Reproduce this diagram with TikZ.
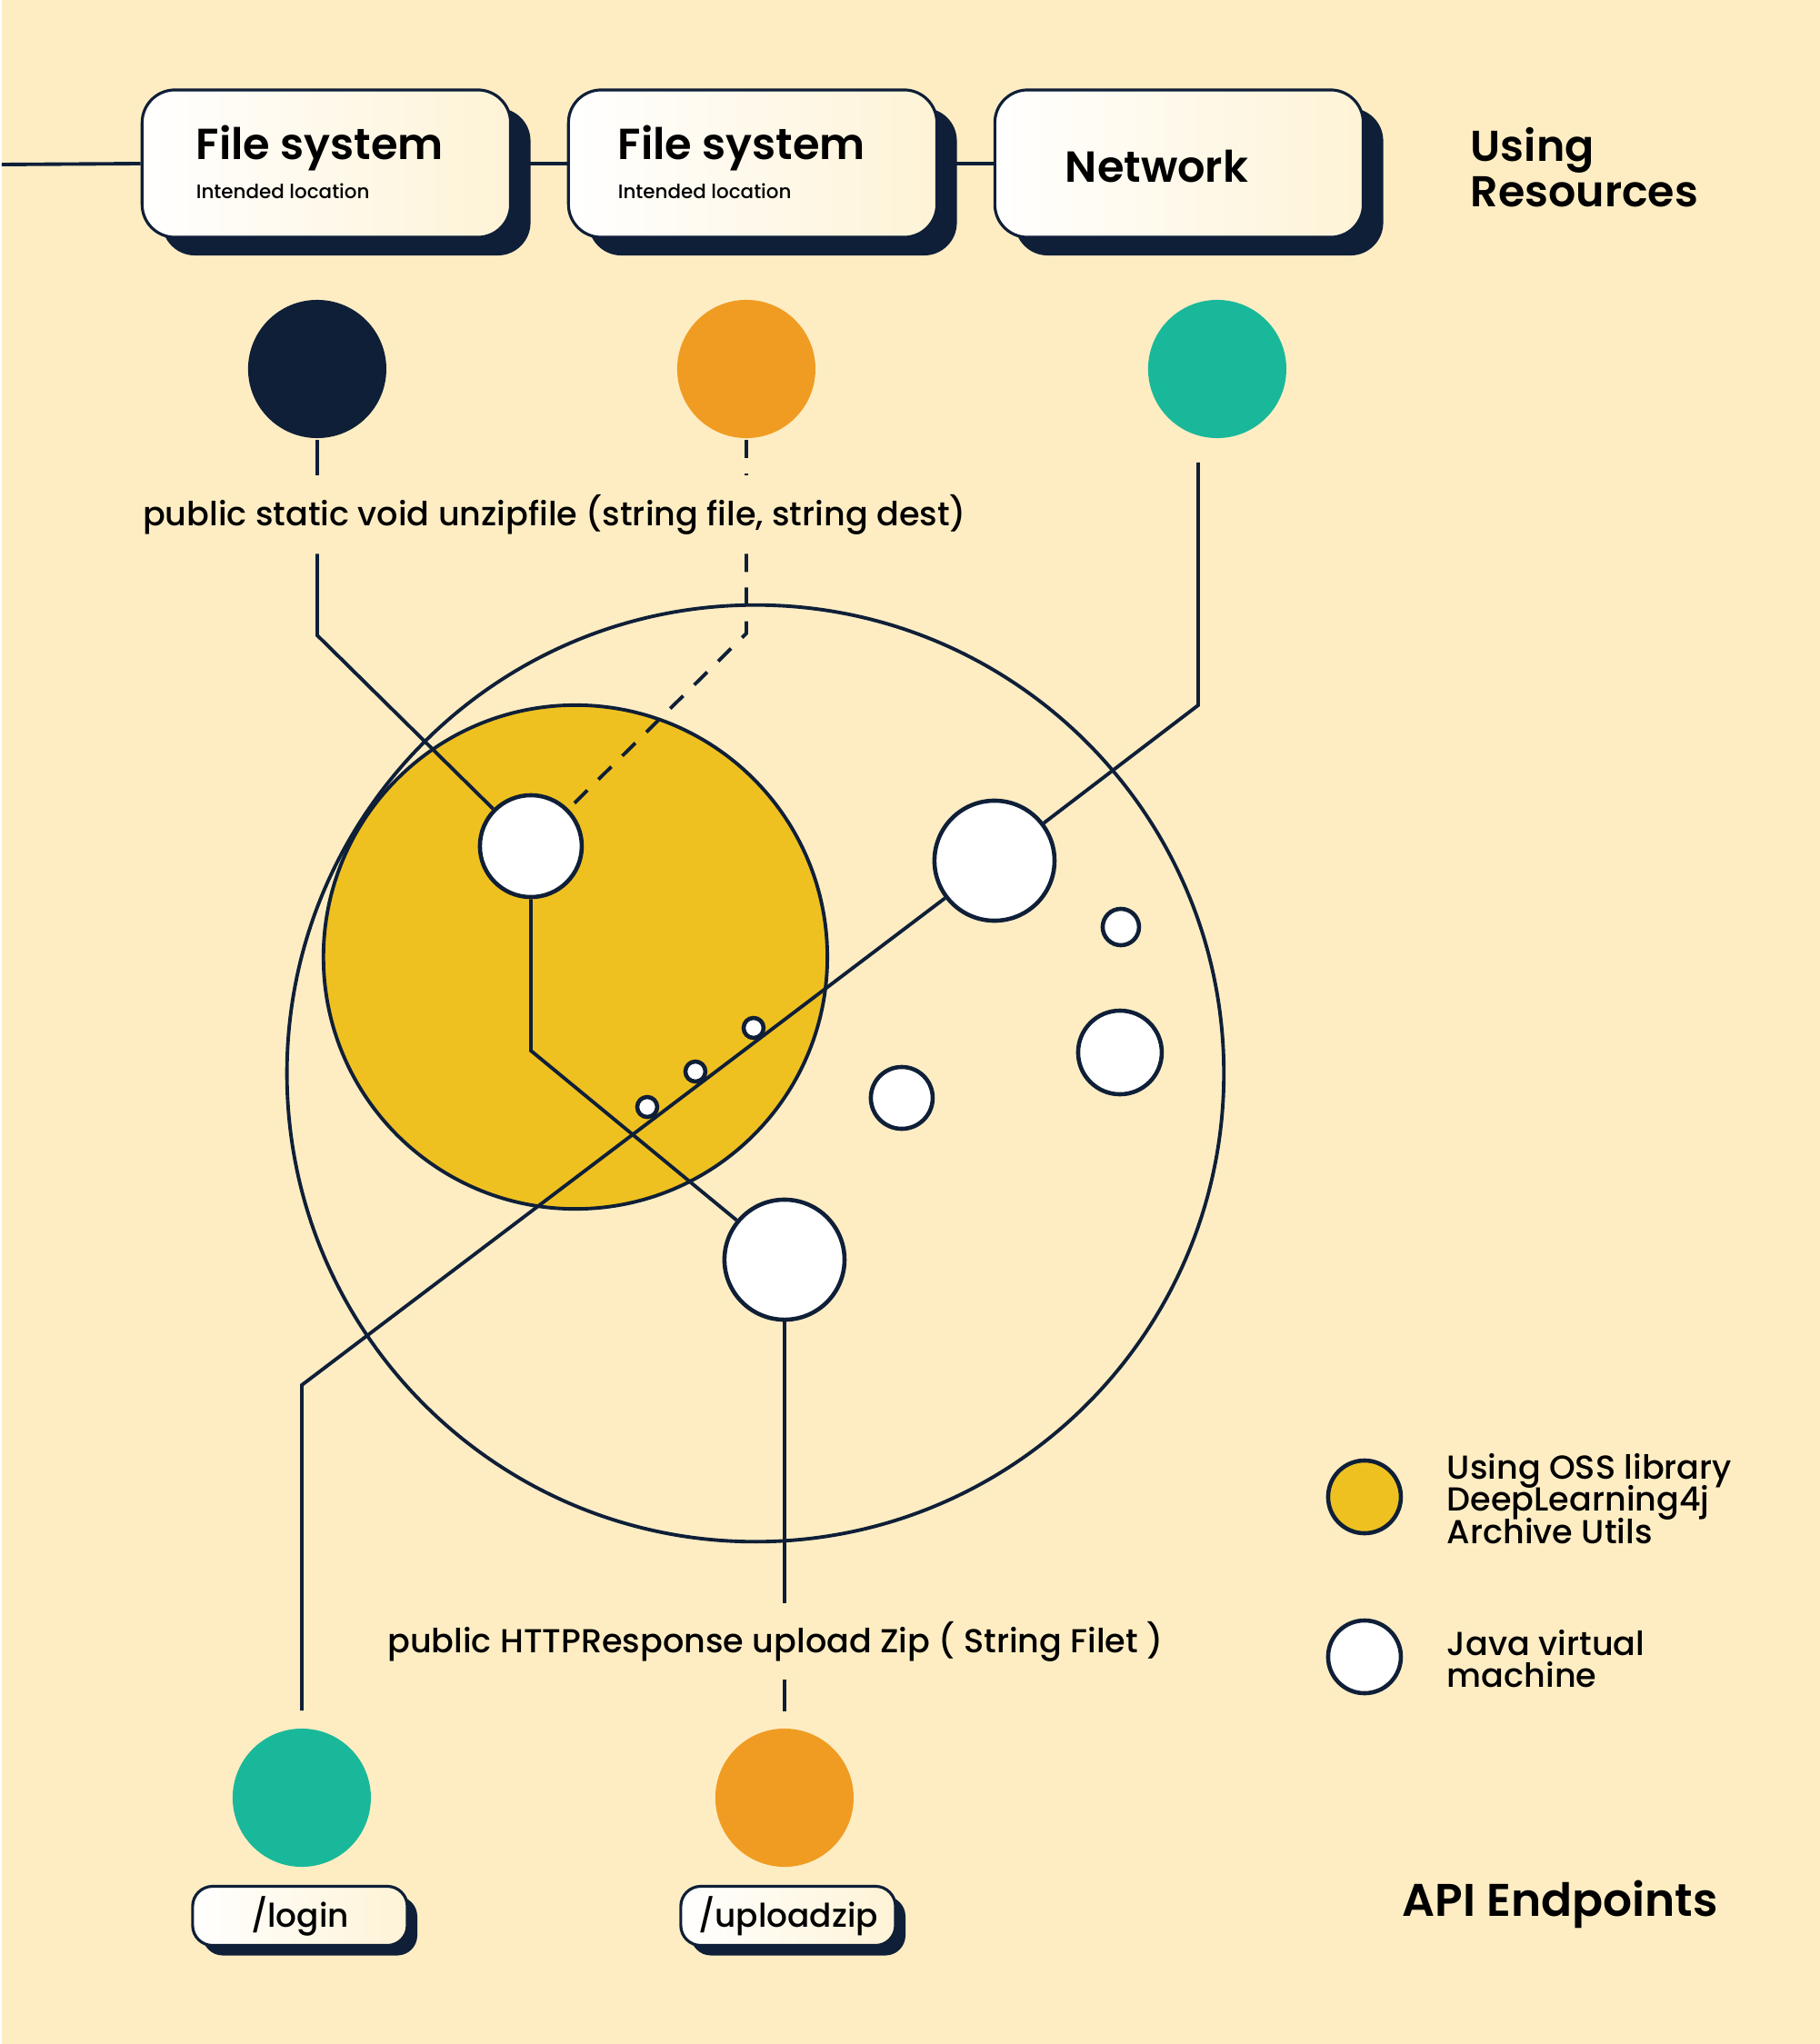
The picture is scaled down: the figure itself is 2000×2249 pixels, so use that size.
\documentclass[tikz,border=0pt]{standalone}
\usepackage{fontspec}
\setmainfont{Poppins}[UprightFont=* Medium, BoldFont=* SemiBold]
\usetikzlibrary{shadows}

\definecolor{bgcream}{HTML}{FEEDC3}
\definecolor{boxcream}{HTML}{FEF3D6}
\definecolor{navy}{HTML}{0F1F38}
\definecolor{resorange}{HTML}{F09C22}
\definecolor{resteal}{HTML}{1AB89A}
\definecolor{ossyellow}{HTML}{EFC120}

\begin{document}
\begin{tikzpicture}[x=0.01cm, y=-0.01cm, line width=1.1pt,
	res/.style={circle, minimum size=1.52cm, inner sep=0pt},
	jvm/.style={circle, draw=navy, fill=white, line width=1.3pt, inner sep=0pt},
	resbox/.style={rounded corners=0.36cm, draw=navy, line width=0.9pt, left color=white, right color=boxcream,
		minimum width=4.05cm, minimum height=1.62cm,
		drop shadow={shadow xshift=0.22cm, shadow yshift=-0.2cm, fill=navy, opacity=1}},
	epbox/.style={rounded corners=0.22cm, draw=navy, line width=0.9pt, left color=white, right color=boxcream,
		minimum width=2.36cm, minimum height=0.65cm, inner sep=0pt, font=\fontsize{10.2}{12}\selectfont,
		drop shadow={shadow xshift=0.11cm, shadow yshift=-0.11cm, fill=navy, opacity=1}},
	ttl/.style={font=\bfseries\fontsize{13.6}{14}\selectfont, inner sep=0pt},
	sub/.style={font=\fontsize{6.1}{8}\selectfont, inner sep=0pt},
	code/.style={font=\fontsize{10.4}{11}\selectfont, inner sep=0pt},
	head/.style={font={\bfseries\fontsize{13.5}{14}\selectfont\lineskiplimit=-20pt}, inner sep=0pt, align=left},
	legend/.style={font={\fontsize{10.4}{10}\selectfont\lineskiplimit=-20pt}, inner sep=0pt, align=left},
	dashline/.style={dash pattern=on 0.2cm off 0.17cm}]

	\fill[bgcream] (0,0) rectangle (2000,2249);

	% using resources
	\node[resbox] (fsA) at (357,180) {};
	\node[resbox] (fsB) at (826,180) {};
	\node[resbox] (netBox) at (1295,180) {};
	\coordinate (leftEnd) at (0,181);
	\draw[navy] (leftEnd) -- (fsA.west);
	\draw[navy] (fsA.east) -- (fsB.west);
	\draw[navy] (fsB.east) -- (netBox.west);

	\node[ttl, anchor=base west] (fsAttl) at (212,176) {File system};
	\node[sub, anchor=base west] (fsAsub) at (212,219) {Intended location};
	\node[ttl, anchor=base west] (fsBttl) at (676,176) {File system};
	\node[sub, anchor=base west] (fsBsub) at (676,219) {Intended location};
	\node[ttl, anchor=base west] (netTtl) at (1168,201) {Network};
	\node[head, anchor=west] (usingRes) at (1614,184) {Using\\Resources};

	\node[res, fill=navy] (rNavy) at (347,406) {};
	\node[res, fill=resorange] (rOrange) at (819,406) {};
	\node[res, fill=resteal] (rTeal) at (1337,406) {};

	% jvm and oss library
	\node[circle, draw=navy, minimum size=10.3cm] (jvmArea) at (829,1181) {};
	\node[circle, draw=navy, fill=ossyellow, minimum size=5.54cm] (oss) at (631,1053) {};

	\node[jvm, minimum size=1.12cm] (jvmA) at (582,931) {};
	\node[jvm, minimum size=1.32cm] (jvmB) at (1092,947) {};
	\node[jvm, minimum size=1.32cm] (jvmC) at (861,1386) {};
	\node[jvm, minimum size=0.40cm] (jvmD) at (1231,1020) {};
	\node[jvm, minimum size=0.92cm] (jvmE) at (1230,1158) {};
	\node[jvm, minimum size=0.68cm] (jvmF) at (990,1208) {};

	% connectors
	\node[code, minimum height=0.83cm] (unzipSig) at (608,566) {public static void unzipfile (string file, string dest)};
	\coordinate (navyBend) at (347,699);
	\draw[navy] (rNavy) -- (unzipSig.north -| rNavy);
	\draw[navy] (unzipSig.south -| rNavy) -- (navyBend) -- (jvmA);

	\coordinate (orangeBend) at (819,697);
	\draw[navy, dashline] (rOrange) -- (unzipSig.north -| rOrange);
	\draw[navy, dashline] (unzipSig.south -| rOrange) -- (orangeBend) -- (jvmA);

	\coordinate (netStart) at (1316,509);
	\coordinate (netBend) at (1316,776);
	\coordinate (loginBend) at (330,1524);
	\coordinate (loginEnd) at (330,1882);
	\draw[navy] (netStart) -- (netBend) -- (jvmB);
	\draw[navy] (jvmB) -- (loginBend) -- (loginEnd);

	\coordinate (aBend) at (582,1156);
	\draw[navy] (jvmA) -- (aBend) -- (jvmC);

	\node[code, minimum height=0.8cm] (uploadSig) at (851,1806) {public HTTPResponse upload Zip ( String Filet )};
	\coordinate (uploadEnd) at (861,1883);
	\draw[navy] (jvmC) -- (uploadSig.north -| jvmC);
	\draw[navy] (uploadSig.south -| jvmC) -- (uploadEnd);

	\node[jvm, minimum size=0.22cm] (jvmS1) at (710,1218) {};
	\node[jvm, minimum size=0.22cm] (jvmS2) at (763,1179) {};
	\node[jvm, minimum size=0.22cm] (jvmS3) at (827,1131) {};

	% api endpoints
	\node[res, fill=resteal] (epLogin) at (330,1978) {};
	\node[res, fill=resorange] (epUpload) at (861,1978) {};
	\node[epbox] (loginBox) at (328,2108) {/login};
	\node[epbox] (uploadBox) at (865,2108) {/uploadzip};
	\node[head, anchor=west, font=\bfseries\fontsize{14.3}{15}\selectfont] (apiEnd) at (1539,2095) {API Endpoints};

	% legend
	\node[jvm, fill=ossyellow, minimum size=0.8cm] (legOss) at (1499,1647) {};
	\node[jvm, minimum size=0.8cm] (legJvm) at (1499,1823) {};
	\node[legend, anchor=west] (legOssTxt) at (1588,1649) {Using OSS library\\DeepLearning4j\\Archive Utils};
	\node[legend, anchor=west] (legJvmTxt) at (1588,1825) {Java virtual\\machine};

\end{tikzpicture}
\end{document}
